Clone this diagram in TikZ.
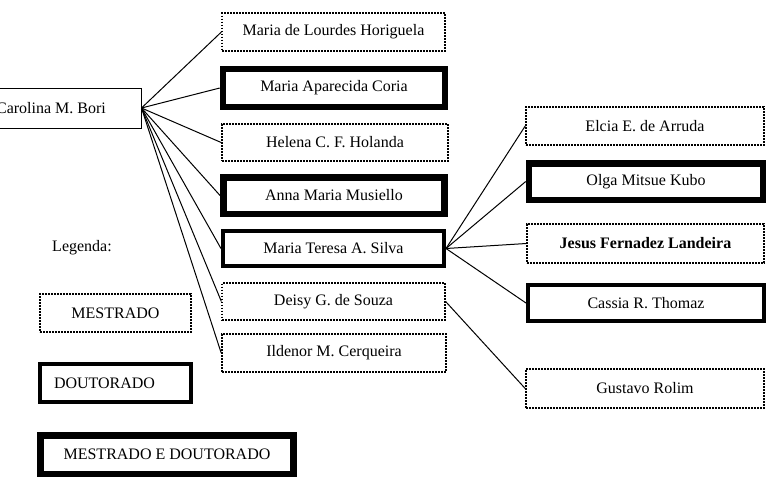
\documentclass[tikz,border=0pt]{standalone}
\usepackage{fontspec}
\setmainfont{Liberation Serif}
\usepackage{tikz}
\usetikzlibrary{positioning}
\tikzset{
  basebox/.style={rectangle, draw=black, inner sep=0pt, align=center,
                  minimum width=#1, minimum height=28.5pt, fill=white},
  basebox/.default=167pt,
  orientbox/.style={basebox=#1, line width=0.75pt},
  orientbox/.default=135pt,
  mestbox/.style={basebox=#1, line width=1.2pt, dash pattern=on 1.2pt off 1.05pt},
  mestbox/.default=167pt,
  doutbox/.style={basebox=#1, line width=3pt},
  doutbox/.default=167pt,
  mdbox/.style={basebox=#1, line width=4.9pt},
  mdbox/.default=167pt,
  link/.style={draw=black, line width=0.75pt},
}

\begin{document}
\begin{tikzpicture}[font=\fontsize{12}{14}\selectfont, x=0.75pt, y=-0.75pt]

\useasboundingbox (0,0) rectangle (766,487);

% ── orientadora ────────────────────────────────────────────────────────────
\node[orientbox, minimum height=30pt] (bori) at (51,108) {Carolina M. Bori};

% ── orientandos (coluna do meio) ─────────────────────────────────────────
\node[mestbox]                        (lourdes)  at (333.5,32)    {Maria de Lourdes Horiguela};
\node[mdbox=166.5pt]                  (coria)    at (334,88)      {Maria Aparecida Coria};
\node[mestbox=169.5pt, minimum height=27.75pt] (helena) at (335,142.5) {Helena C. F. Holanda};
\node[mdbox=166pt, minimum height=27.4pt]      (musiello) at (334,195.5) {Anna Maria Musiello};
\node[doutbox=165.75pt, minimum height=26.25pt] (teresa) at (333.5,248.5) {Maria Teresa A. Silva};
\node[mestbox, minimum height=27.75pt] (deisy)   at (333.5,301.5) {Deisy G. de Souza};
\node[mestbox=168pt]                  (ildenor)  at (334,353)     {Ildenor M. Cerqueira};

% ── segunda geração (coluna da direita) ──────────────────────────────────
\node[mestbox=178.5pt]                         (arruda)   at (645,126)   {Elcia E. de Arruda};
\node[mdbox=175.5pt, minimum height=27.4pt]    (kubo)     at (646,181.5) {Olga Mitsue Kubo};
\node[mestbox=177.75pt, minimum height=29.25pt, font=\fontsize{12}{14}\selectfont\bfseries]
                                               (landeira) at (645.5,243.5) {Jesus Fernadez Landeira};
\node[doutbox=177pt, minimum height=27pt]      (thomaz)   at (646,303)   {Cassia R. Thomaz};
\node[mestbox=178.5pt, minimum height=29.25pt] (rolim)    at (645,388.5) {Gustavo Rolim};

% ── ligações ──────────────────────────────────────────────────────────────
\foreach \n in {lourdes,coria,helena,musiello,teresa,deisy,ildenor}{
  \draw[link] (bori.east) -- (\n.west);
}
\foreach \n in {arruda,kubo,landeira,thomaz}{
  \draw[link] (teresa.east) -- (\n.west);
}
\draw[link] (deisy.east) -- (rolim.west);

% ── legenda ───────────────────────────────────────────────────────────────
\node (legenda) at (82,248) {Legenda:};
\node[mestbox=113.25pt] (legmest) at (115.5,313) {MESTRADO};
\node[doutbox=113.25pt, text width=92.25pt, align=left] (legdout) at (115.5,383) {DOUTORADO};
\node[mdbox=190.1pt, minimum height=28.9pt] (legmd) at (167,454.5) {MESTRADO E DOUTORADO};

\end{tikzpicture}
\end{document}
